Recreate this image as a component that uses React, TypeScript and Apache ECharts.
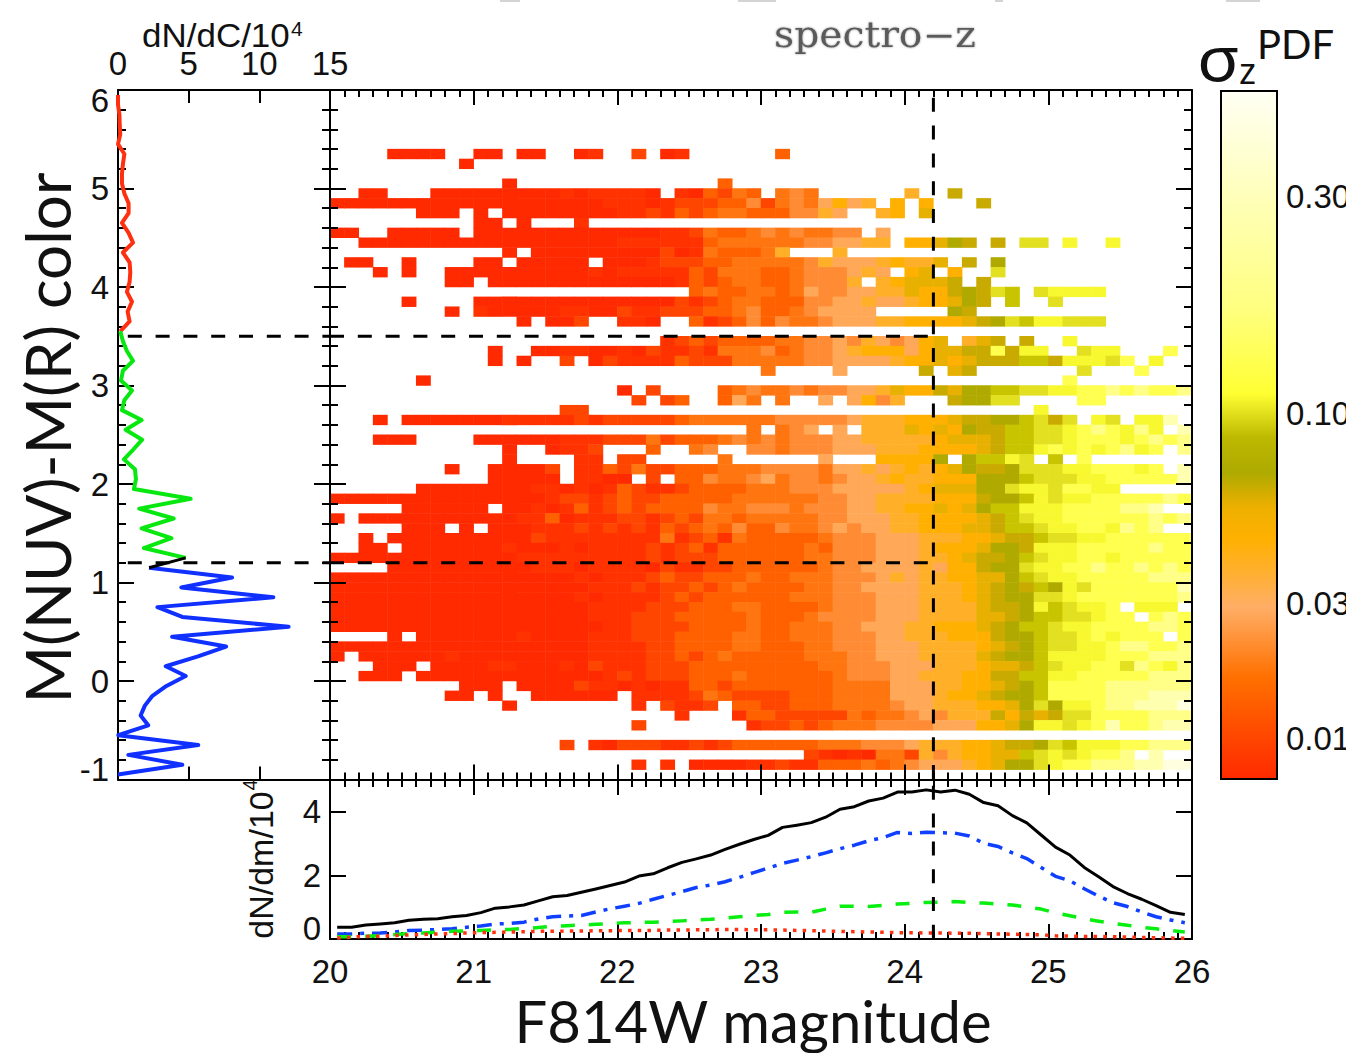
import React, { useEffect, useRef } from "react";
import * as echarts from "echarts";

// sigma_z levels per cell, one string per color bin from colour 6 (top) to -1 (bottom),
// each with 60 magnitude bins from 20 to 26. "." = no objects.
const LEVELS = "0123456789abcdefghi";
const levelColors = ["#ff2a00","#ff3200","#ff4600","#ff6000","#ff7610","#ff8c34","#ffa858","#ffb028","#ffb000","#e8b000","#c8aa00","#b0aa00","#c8c400","#e2e020","#f8f830","#ffff50","#ffff88","#ffffb0","#ffffe0"];
const heatRows = [
  "", "", "", "", "", "",
  "....0000.. 00.00..01. .2.01..... .3........",
  ".........0",
  "",
  ".......... ..0....... .......3..",
  "..00...000 0000001011 110.103243 .454...... 7..a......",
  "0000000000 0000000001 1101222335 24546867.8 .8...a....",
  "......000. 0.00000000 1121323443 335576..78 .9........",
  ".......... 00.0...1..",
  "00..00000. 0000000000 0001124334 5454455.6.",
  "..00000000 0000000000 1111113444 444556677. 889ba.a.dd .e..e.....",
  ".......... ..0.000000 0002014333 47...7....",
  ".00..0.... 00.00000.0 0012223344 4445766678 779.a.b...",
  "...0.0..00 0000000010 1111132444 334555676. 89.8..d...",
  "........00 .000000000 0000132344 3345557.78 999a.a....",
  ".......... .......... .....34334 4346556677 988abadc.d eeee......",
  ".....0.... 0000000000 0000212344 3335566766 7889ba.c.. d.........",
  "........0. 1000001100 2112223345 33456666.. ...ba.....",
  ".......... ...0.002.. 110..31235 3544566677 88889abdce eddd......",
  "",
  ".......... .......... ...1232333 3445565765 689.79a.a. .e........",
  ".......... .0..001100 1021121444 5345567888 6899aafaee ..dee...f.",
  ".......... .0.0..2.02 1111322244 4445566667 88989aaacc aeeedf.e..",
  ".......... .......... .......... 4....6.... .a.9a..... ..d...f...",
  "......0... .......... .......... .......... .......... .f........",
  ".......... .......... 0.2....345 4454556679 88a9bbccdd eeffgfgffg",
  ".......... .......... .2.23..364 .4..6.6857 ...abbdd.. ..ff......",
  ".......... ......22.. .......... .......... .........e",
  "...0.00000 0011111212 2222344444 4555556777 8889aabbcd ad.ed.eeh.",
  ".......... .......... .........4 .456.6.777 9898baaccd defgfege.h",
  "...000.... 0000001112 2242333454 5455566777 778999accd defffefgfg",
  ".......... ..0..0112. ..3..45..5 5455566677 788889acce fefefgef.g",
  ".......... ..0....11. 22.....4.. ....6...88 88b.bcced. c.f.......",
  "........0. .00002.113 2422333444 5555466767 8789baabdd deefffef.h",
  ".......... .00000.110 0.2.335445 6455456678 77888bbbcd ddeefffffh",
  "......0000 0000110101 3211233334 4455566666 78999bbdee dffee.....",
  "0000000000 0000012212 3223333344 4444556677 77888abbce deefffffgf",
  ".....00000 0.00101312 3233335445 5545556677 88989bccee effffggh..",
  "0.00000000 0001130111 2212324434 4444556667 788889acde effffffgfg",
  ".....000.0 .000111212 1213234353 3544565667 788899accd eeffegfg..",
  "..0.000000 0000211111 1114123143 3333455566 6777889aac ddeeffffff",
  "..00.00000 0010001011 1121231333 3334355566 678889bbae eefffffgff",
  "0000000000 0001111111 1121222333 3334455566 67789aabcd eeffefffff",
  "....000000 0000111011 1102112233 3333455666 67688abbde effgffgfgf",
  "0000000000 0000000101 1123223334 3344455567 6778899bcd eefffffggg",
  "0000000000 0000000011 1212232343 3334455666 677789abac bedffffffh",
  "0000000000 0000000101 1112323333 3344455566 677789abbd defffffffg",
  "0000000000 0000000011 1122233344 3333455566 677779aabe cdeef.eee.",
  "0000000000 0000000011 1222333334 3334555566 6777799abc cddeff.fgf",
  "0000000000 0000000001 1222233334 3344455666 778889abcc deeffffggf",
  "....0.0000 0001000011 1222333344 3344455566 777888abbc ddefefff.f",
  "0000000000 0000000011 1122333344 3334455566 6777789abc ddeefggffg",
  "0.00000010 0000000011 1122323433 3334445566 677779abbc eeeefffggg",
  "...000.000 0110001021 1122233333 3333445556 66777899ac deeffdgfeg",
  "..000.0000 0000000001 2122233343 3333345556 677788aacc eefffffggg",
  ".........0 00.0000211 0101133233 3333344446 6677889abc ffffgggggg",
  "........00 .0..000000 .111124322 2233344446 667889abbc ffffggghhh",
  ".......... ..0....... .1.2112.33 2233344445 66777889bd beefgghhhi",
  ".......... .......... ....1...13 3222224344 565777a8a9 addffffggg",
  ".......... .......... .2.......1 2232344455 55666889be edefhffghh",
  "",
  ".......... ......2.10 2221121233 3333444555 6777889aab dceeeffggg",
  ".......... .......... .......... ...2101044 27578899cd edeffg.h..",
  ".......... .......... .1.1.00001 1211333434 5666789bbd effggghhii",
  "",
];

// Magnitude histogram dN/dm / 10^4, bins centred at 20.05 ... 25.95
const dndmAll = [.37,.37,.44,.47,.51,.59,.62,.64,.70,.74,.83,.97,1.01,1.07,1.20,1.33,1.37,1.47,1.57,1.68,1.79,1.98,2.05,2.24,2.41,2.52,2.64,2.82,2.98,3.13,3.26,3.51,3.58,3.66,3.83,4.08,4.16,4.34,4.43,4.62,4.62,4.69,4.62,4.68,4.55,4.29,4.19,3.88,3.65,3.27,2.89,2.64,2.25,1.96,1.65,1.43,1.25,1.05,.84,.77];
const dndmBlue = [.16,.16,.18,.19,.22,.27,.28,.30,.32,.37,.41,.47,.49,.53,.63,.70,.72,.74,.85,.95,1.03,1.12,1.25,1.37,1.49,1.62,1.70,1.80,1.94,2.09,2.23,2.38,2.48,2.59,2.71,2.84,2.95,3.09,3.19,3.35,3.32,3.36,3.34,3.33,3.24,3.01,2.91,2.71,2.53,2.25,1.97,1.83,1.58,1.35,1.14,1.02,.85,.70,.60,.51];
const dndmGreen = [.07,.07,.09,.10,.14,.17,.19,.22,.24,.26,.27,.29,.30,.33,.36,.40,.42,.44,.46,.49,.51,.52,.53,.55,.57,.60,.62,.66,.70,.74,.77,.84,.85,.84,.94,1.03,1.03,1.02,1.06,1.10,1.12,1.15,1.16,1.18,1.15,1.13,1.10,1.07,1.00,.94,.82,.73,.64,.56,.49,.43,.37,.32,.27,.22];
const dndmRed = [.03,.06,.08,.09,.11,.13,.14,.16,.17,.19,.20,.21,.22,.23,.24,.24,.25,.25,.26,.26,.27,.27,.27,.28,.28,.29,.29,.30,.30,.29,.29,.28,.27,.26,.25,.24,.23,.22,.21,.20,.20,.19,.19,.18,.18,.17,.16,.15,.14,.13,.10,.09,.08,.08,.07,.06,.05,.04,.03,.02];

// Colour histogram dN/dC / 10^4, bins centred at -0.95 ... 5.95
const dndcBlue = [0,4.55,.73,5.68,.02,2.14,1.6,1.9,2.44,3.43,4.79,3.38,5.66,7.65,3.83,12.07,4.55,2.79,10.99,4.48,8.07,2.2];
const dndcGreen = [4.79,1.83,3.78,1.67,3.94,1.5,5.14,1.13,1.27,1.2,.42,1.08,1.71,.54,1.67,.28,.45,.99,.21,.35,1.06,.63,.35,.16];
const dndcRed = [.16,.82,.68,.99,.63,.82,.87,.82,.35,1.06,.75,.28,.75,.75,.45,.28,.28,.35,.45,0,.16,.12,.1,0,0];

const magTicks = { min: 20, max: 26 };
const colTicks = { min: -1, max: 6 };
const colourSplits = [1.2, 3.5];
const magLimit = 24.2;
const cbLabels = ["0.30", "0.10", "0.03", "0.01"];

const FONT = "'Liberation Sans', Arial, sans-serif";
const GILL = "Lato, sans-serif";
const BOX = { main: { left: 330, top: 90, width: 862, height: 689.5 }, side: { left: 118, top: 90, width: 212, height: 689.5 }, low: { left: 330, top: 780, width: 862, height: 159 } };

const heatData: number[][] = [];
heatRows.forEach((s, k) => {
  const t = s.replace(/ /g, "");
  for (let c = 0; c < t.length; c++) {
    const lv = LEVELS.indexOf(t[c]);
    if (lv >= 0) heatData.push([c, heatRows.length - 1 - k, lv]);
  }
});
const binned = (vals: number[], start: number) => vals.map((v, i) => [v, +(start + i * 0.1).toFixed(2)]);
const magBinned = (vals: number[]) => vals.map((v, i) => [+(20.05 + i * 0.1).toFixed(2), v]);

function axis(o: any) {
  const { grid, position, min, max, interval, major, minor, split, labels, fontSize, margin, extra } = o;
  return {
    type: "value", gridIndex: grid, position, min, max, interval, z: 5,
    axisLine: { show: true, onZero: false, lineStyle: { color: "#000", width: 2 } },
    axisTick: { show: true, inside: true, length: major, lineStyle: { color: "#000", width: 2 } },
    minorTick: { show: !!split, splitNumber: split || 5, length: minor || 7, lineStyle: { color: "#000", width: 2 } },
    splitLine: { show: false }, minorSplitLine: { show: false },
    axisLabel: { show: !!labels, fontFamily: FONT, fontSize: fontSize || 32, color: "#111", margin: margin || 10, ...(extra || {}) },
  };
}

const dash = (name: string, xAxisIndex: number, yAxisIndex: number, data: number[][], dashOffset: number) => ({
  name, type: "line", xAxisIndex, yAxisIndex, data, showSymbol: false, symbol: "none", silent: true, clip: false, z: 7, animation: false,
  lineStyle: { color: "#000", width: 3, type: [14, 13.8], dashOffset },
});
const curve = (name: string, xAxisIndex: number, yAxisIndex: number, data: number[][], color: string, width: number, type: any = "solid") => ({
  name, type: "line", xAxisIndex, yAxisIndex, data, showSymbol: false, symbol: "none", silent: true, clip: false, z: 6, animation: false,
  lineStyle: { color, width, type, join: "round" },
});

const T = (text: string, x: number, y: number, font: string, extra: any = {}, styleExtra: any = {}) => ({
  type: "text", x, y, z: 20, silent: true, ...extra,
  style: { text, font, fill: "#111", align: "left", verticalAlign: "middle", textAlign: "left", textVerticalAlign: "middle", ...styleExtra },
});

export default function App() {
  const ref = useRef<HTMLDivElement>(null);
  useEffect(() => {
    const chart = echarts.init(ref.current!, undefined, { renderer: "svg" });
    const cb = new echarts.graphic.LinearGradient(0, 1, 0, 0, [
      { offset: 0, color: "#ff2a00" }, { offset: .148, color: "#ff7000" }, { offset: .25, color: "#ffae66" },
      { offset: .30, color: "#ffb030" }, { offset: .35, color: "#ffb000" }, { offset: .394, color: "#eeb000" },
      { offset: .445, color: "#aeaa00" }, { offset: .496, color: "#bdb800" }, { offset: .56, color: "#ffff33" },
      { offset: .684, color: "#ffff80" }, { offset: .83, color: "#ffffb4" }, { offset: 1, color: "#fffff4" },
    ]);
    chart.setOption({
      animation: false,
      backgroundColor: "#fff",
      grid: [
        { ...BOX.main, containLabel: false },
        { ...BOX.main, containLabel: false },
        { ...BOX.side, containLabel: false },
        { ...BOX.low, containLabel: false },
      ],
      xAxis: [
        { type: "category", gridIndex: 0, show: false, data: Array.from({ length: 60 }, (_, i) => String(i)) },
        axis({ grid: 1, position: "bottom", ...magTicks, interval: 1, major: 15, split: 10 }),
        axis({ grid: 1, position: "top", ...magTicks, interval: 1, major: 15, split: 10 }),
        axis({ grid: 2, position: "bottom", min: 0, max: 15, interval: 5, major: 13 }),
        axis({ grid: 2, position: "top", min: 0, max: 15, interval: 5, major: 13, labels: true, fontSize: 33, margin: 10 }),
        axis({ grid: 3, position: "bottom", ...magTicks, interval: 1, major: 15, split: 10, labels: true, fontSize: 33, margin: 16 }),
        axis({ grid: 3, position: "top", ...magTicks, interval: 1, major: 15, split: 10 }),
      ],
      yAxis: [
        { type: "category", gridIndex: 0, show: false, data: Array.from({ length: 70 }, (_, i) => String(i)) },
        axis({ grid: 1, position: "left", ...colTicks, interval: 1, major: 16, minor: 8, split: 5 }),
        axis({ grid: 1, position: "right", ...colTicks, interval: 1, major: 16, minor: 8, split: 5 }),
        axis({ grid: 2, position: "left", ...colTicks, interval: 1, major: 16, minor: 8, split: 5, labels: true, fontSize: 33, margin: 9, extra: { lineHeight: 20, verticalAlignMaxLabel: "top", verticalAlignMinLabel: "bottom" } }),
        axis({ grid: 2, position: "right", ...colTicks, interval: 1, major: 16, minor: 8, split: 5 }),
        axis({ grid: 3, position: "left", min: 0, max: 5, interval: 2, major: 16, labels: true, fontSize: 33, margin: 9, extra: { lineHeight: 22, showMaxLabel: false, verticalAlignMinLabel: "bottom" } }),
        axis({ grid: 3, position: "right", min: 0, max: 5, interval: 2, major: 16 }),
      ],
      visualMap: { type: "continuous", show: false, seriesIndex: 0, dimension: 2, min: 0, max: 18, inRange: { color: levelColors } },
      series: [
        { type: "heatmap", xAxisIndex: 0, yAxisIndex: 0, data: heatData, z: 1, silent: true, animation: false, progressive: 0, itemStyle: { borderWidth: 0 }, emphasis: { disabled: true } },
        curve("red", 3, 3, binned(dndcRed, 3.55), "#ff3010", 4),
        curve("green", 3, 3, binned(dndcGreen, 1.25), "#08e810", 4),
        curve("blue", 3, 3, binned(dndcBlue, -0.95), "#1030ff", 4),
        curve("join", 3, 3, [[dndcBlue[dndcBlue.length - 1], 1.15], [dndcGreen[0], 1.25]], "#000", 3),
        curve("all", 5, 5, magBinned(dndmAll), "#000", 3),
        curve("blueM", 5, 5, magBinned(dndmBlue), "#1040ff", 3.5, [15, 8, 4, 8]),
        curve("greenM", 5, 5, magBinned(dndmGreen), "#08ee10", 3.5, [14, 14]),
        curve("redM", 5, 5, magBinned(dndmRed), "#ff3010", 3.5, [3.5, 6.2]),
        ...colourSplits.flatMap((c, i) => [
          dash("hs" + i, 3, 3, [[0, c], [15, c]], 17.5),
          dash("hm" + i, 1, 1, [[20, c], [magLimit, c]], 0),
        ]),
        dash("vm", 1, 1, [[magLimit, 6], [magLimit, -1]], 19.8),
        dash("vl", 5, 5, [[magLimit, 5], [magLimit, 0]], 21.8),
      ],
      graphic: [
        ...[[738, 38], [995, 8], [1226, 34], [500, 20]].map(([x, w]) => ({ type: "rect", z: 9, silent: true, shape: { x, y: 0, width: w, height: 2 }, style: { fill: "#d4d4d4" } })),
        { type: "rect", z: 10, silent: true, shape: { x: 1221, y: 91, width: 56, height: 688 }, style: { fill: cb, stroke: "#000", lineWidth: 2 } },
        ...cbLabels.map((s, i) => T(s, 1286, [196, 413, 603, 738][i], `33px ${FONT}`)),
        { type: "rect", z: 30, silent: true, shape: { x: 1346, y: 0, width: 16, height: 1053 }, style: { fill: "#fff" } },
        T("dN/dC/10", 142, 35, `33px ${FONT}`, { scaleX: 1.06 }),
        T("4", 291, 28, `21px ${FONT}`),
        T("M(NUV)-M(R) color", 47, 438, `62px ${GILL}`, { rotation: Math.PI / 2 }, { align: "center", textAlign: "center" }),
        T("dN/dm/10", 261, 865, `34px ${FONT}`, { rotation: Math.PI / 2 }, { align: "center", textAlign: "center" }),
        T("4", 250, 785, `20px ${FONT}`, { rotation: Math.PI / 2 }, { align: "center", textAlign: "center" }),
        T("F814W magnitude", 753, 1020, `58px ${GILL}`, {}, { align: "center", textAlign: "center" }),
        T("spectro\u2212z", 875, 35, `35px 'DejaVu Serif', serif`, { scaleX: 1.12 }, { align: "center", textAlign: "center", fill: "#5a5a5a", textShadowColor: "#999", textShadowBlur: 2 }),
        T("\u03c3", 1197, 57, `62px 'Noto Sans', sans-serif`, { scaleX: 1.12 }),
        T("z", 1239, 70, `36px 'Noto Sans', sans-serif`),
        T("PDF", 1257, 44, `40px ${GILL}`),
      ],
    });
    return () => chart.dispose();
  }, []);
  return <div ref={ref} style={{ position: "absolute", left: 0, top: 0, width: 1362, height: 1053 }} />;
}
